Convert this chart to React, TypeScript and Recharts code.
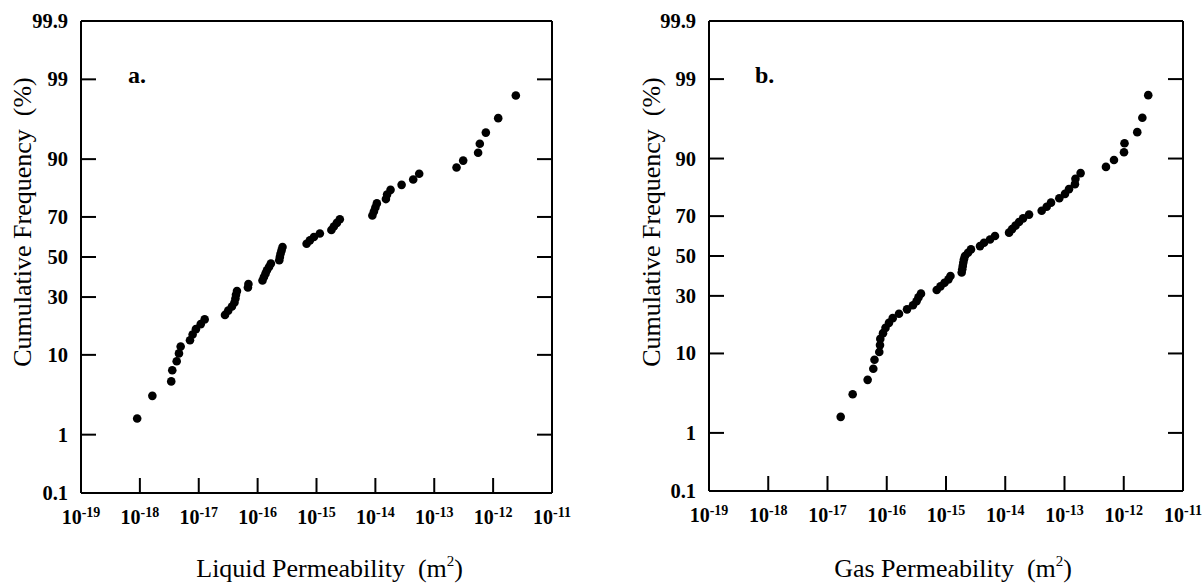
import React from 'react';
import { ScatterChart, Scatter, XAxis, YAxis } from 'recharts';

// Cumulative frequency (%) of each ranked sample (same plotting positions in both panels)
const cumulativeFrequency = [
  1.72, 3.45, 5.17, 6.9, 8.62, 10.34, 12.07, 13.79, 15.52, 17.24,
  18.97, 20.69, 22.41, 24.14, 25.86, 27.59, 29.31, 31.03, 32.76, 34.48,
  36.21, 37.93, 39.66, 41.38, 43.1, 44.83, 46.55, 48.28, 50.0, 51.72,
  53.45, 55.17, 56.9, 58.62, 60.34, 62.07, 63.79, 65.52, 67.24, 68.97,
  70.69, 72.41, 74.14, 75.86, 77.59, 79.31, 81.03, 82.76, 84.48, 86.21,
  87.93, 89.66, 91.38, 93.1, 94.83, 96.55, 98.28,
];

// Panel a: liquid permeability (m^2)
const liquidPermeability = [
  9.0e-19, 1.63e-18, 3.41e-18, 3.55e-18, 4.22e-18, 4.61e-18, 4.93e-18, 7.1e-18, 7.87e-18, 8.95e-18,
  1.08e-17, 1.26e-17, 2.79e-17, 3.17e-17, 3.66e-17, 4.04e-17, 4.2e-17, 4.29e-17, 4.46e-17, 6.84e-17,
  6.98e-17, 1.21e-16, 1.28e-16, 1.36e-16, 1.44e-16, 1.56e-16, 1.68e-16, 2.33e-16, 2.39e-16, 2.45e-16,
  2.55e-16, 2.65e-16, 6.79e-16, 7.73e-16, 9.04e-16, 1.14e-15, 1.79e-15, 1.97e-15, 2.22e-15, 2.49e-15,
  8.89e-15, 9.44e-15, 1.0e-14, 1.06e-14, 1.51e-14, 1.58e-14, 1.81e-14, 2.79e-14, 4.39e-14, 5.55e-14,
  2.39e-13, 3.1e-13, 5.56e-13, 5.94e-13, 7.52e-13, 1.22e-12, 2.43e-12,
];

// Panel b: gas permeability (m^2)
const gasPermeability = [
  1.67e-17, 2.66e-17, 4.76e-17, 5.93e-17, 6.21e-17, 7.48e-17, 7.69e-17, 7.78e-17, 8.65e-17, 9.53e-17,
  1.09e-16, 1.26e-16, 1.61e-16, 2.2e-16, 2.77e-16, 3.18e-16, 3.43e-16, 3.78e-16, 6.97e-16, 8.07e-16,
  9.44e-16, 1.1e-15, 1.19e-15, 1.84e-15, 1.88e-15, 1.92e-15, 1.96e-15, 2.01e-15, 2.09e-15, 2.35e-15,
  2.64e-15, 3.75e-15, 4.38e-15, 5.53e-15, 6.71e-15, 1.16e-14, 1.3e-14, 1.49e-14, 1.71e-14, 2.0e-14,
  2.52e-14, 4.12e-14, 5.01e-14, 5.92e-14, 8.17e-14, 1.02e-13, 1.19e-13, 1.5e-13, 1.53e-13, 1.87e-13,
  5.01e-13, 6.84e-13, 1.01e-12, 1.03e-12, 1.69e-12, 2.06e-12, 2.59e-12,
];

const yTickPercents = [0.1, 1, 10, 30, 50, 70, 90, 99, 99.9];
const yTickLabels = ['0.1', '1', '10', '30', '50', '70', '90', '99', '99.9'];
const xTickValues = [1e-19, 1e-18, 1e-17, 1e-16, 1e-15, 1e-14, 1e-13, 1e-12, 1e-11];
const xTickExponents = ['-19', '-18', '-17', '-16', '-15', '-14', '-13', '-12', '-11'];

const FONT = '"Liberation Serif", "Times New Roman", Times, serif';

// inverse standard normal CDF (normal-probability axis transform)
function probit(p: number): number {
  const a = [-3.969683028665376e1, 2.209460984245205e2, -2.759285104469687e2, 1.38357751867269e2, -3.066479806614716e1, 2.506628277459239];
  const b = [-5.447609879822406e1, 1.615858368580409e2, -1.556989798598866e2, 6.680131188771972e1, -1.328068155288572e1];
  const c = [-7.784894002430293e-3, -3.223964580411365e-1, -2.400758277161838, -2.549671254911294, 4.374664141464968, 2.938163982698783];
  const d = [7.784695709041462e-3, 3.224671290700398e-1, 2.445134137142996, 3.754408661907416];
  const plow = 0.02425;
  const phigh = 1 - plow;
  if (p < plow) {
    const q = Math.sqrt(-2 * Math.log(p));
    return (((((c[0] * q + c[1]) * q + c[2]) * q + c[3]) * q + c[4]) * q + c[5]) /
      ((((d[0] * q + d[1]) * q + d[2]) * q + d[3]) * q + 1);
  }
  if (p <= phigh) {
    const q = p - 0.5;
    const r = q * q;
    return ((((((a[0] * r + a[1]) * r + a[2]) * r + a[3]) * r + a[4]) * r + a[5]) * q) /
      (((((b[0] * r + b[1]) * r + b[2]) * r + b[3]) * r + b[4]) * r + 1);
  }
  const q = Math.sqrt(-2 * Math.log(1 - p));
  return -(((((c[0] * q + c[1]) * q + c[2]) * q + c[3]) * q + c[4]) * q + c[5]) /
    ((((d[0] * q + d[1]) * q + d[2]) * q + d[3]) * q + 1);
}

const yTickValues = yTickPercents.map((p) => probit(p / 100));
const yDomain = [yTickValues[0], yTickValues[yTickValues.length - 1]];

const TICK_LEN = 15;
const X_LABEL_GAP = 31;
const Y_LABEL_GAP = 13;

const labelForY = (v: number) => {
  const i = yTickValues.findIndex((t) => Math.abs(t - v) < 1e-6);
  return i >= 0 ? yTickLabels[i] : '';
};
const expForX = (v: number) => {
  const i = xTickValues.findIndex((t) => Math.abs(Math.log10(t) - Math.log10(v)) < 1e-6);
  return i >= 0 ? xTickExponents[i] : '';
};

const LeftYTick = (props: any) => {
  const { x, y, payload } = props;
  const ax = x + Y_LABEL_GAP;
  return (
    <g>
      <line x1={ax} x2={ax + TICK_LEN} y1={y} y2={y} stroke="#000" strokeWidth={2} />
      <text x={x} y={y} dy="0.34em" textAnchor="end" fontFamily={FONT} fontSize={20.5} fontWeight="bold" fill="#000">
        {labelForY(payload.value)}
      </text>
    </g>
  );
};

const RightYTick = (props: any) => {
  const { x, y } = props;
  return <line x1={x - TICK_LEN} x2={x} y1={y} y2={y} stroke="#000" strokeWidth={2} />;
};

const BottomXTick = (props: any) => {
  const { x, y, payload } = props;
  const ay = y - X_LABEL_GAP;
  return (
    <g>
      <line x1={x} x2={x} y1={ay} y2={ay - TICK_LEN} stroke="#000" strokeWidth={2} />
      <text x={x} y={y} textAnchor="middle" fontFamily={FONT} fontSize={20} fontWeight="bold" fill="#000">
        10
        <tspan dy={-7.5} fontSize={14}>{expForX(payload.value)}</tspan>
      </text>
    </g>
  );
};

const TopXTick = (props: any) => {
  const { x, y } = props;
  return <line x1={x} x2={x} y1={y} y2={y + TICK_LEN} stroke="#000" strokeWidth={2} />;
};

const Dot = (props: any) => <circle cx={props.cx} cy={props.cy} r={4.3} fill="#000" />;

const axisLine = { stroke: '#000', strokeWidth: 2 };

function Panel(props: {
  left: number;
  width: number;
  margin: { top: number; left: number; right: number; bottom: number };
  permeability: number[];
}) {
  const data = props.permeability.map((k, i) => ({ k, z: probit(cumulativeFrequency[i] / 100) }));
  return (
    <div style={{ position: 'absolute', left: props.left, top: 0, width: props.width, height: 585 }}>
      <ScatterChart width={props.width} height={585} margin={props.margin}>
        <XAxis
          xAxisId="b"
          dataKey="k"
          type="number"
          scale="log"
          domain={[xTickValues[0], xTickValues[xTickValues.length - 1]]}
          ticks={xTickValues}
          interval={0}
          allowDataOverflow
          orientation="bottom"
          height={1}
          tickSize={0}
          tickMargin={X_LABEL_GAP}
          tickLine={false}
          axisLine={axisLine}
          tick={BottomXTick}
        />
        <XAxis
          xAxisId="t"
          type="number"
          scale="log"
          domain={[xTickValues[0], xTickValues[xTickValues.length - 1]]}
          ticks={xTickValues}
          interval={0}
          allowDataOverflow
          orientation="top"
          height={1}
          tickSize={0}
          tickMargin={0}
          tickLine={false}
          axisLine={axisLine}
          tick={TopXTick}
        />
        <YAxis
          yAxisId="l"
          dataKey="z"
          type="number"
          domain={yDomain}
          ticks={yTickValues}
          interval={0}
          allowDataOverflow
          orientation="left"
          width={1}
          tickSize={0}
          tickMargin={Y_LABEL_GAP}
          tickLine={false}
          axisLine={axisLine}
          tick={LeftYTick}
        />
        <YAxis
          yAxisId="r"
          type="number"
          domain={yDomain}
          ticks={yTickValues}
          interval={0}
          allowDataOverflow
          orientation="right"
          width={1}
          tickSize={0}
          tickMargin={0}
          tickLine={false}
          axisLine={axisLine}
          tick={RightYTick}
        />
        <Scatter xAxisId="b" yAxisId="l" data={data} shape={Dot} isAnimationActive={false} />
      </ScatterChart>
    </div>
  );
}

const titleStyle: React.CSSProperties = {
  position: 'absolute',
  fontFamily: FONT,
  fontSize: 26,
  lineHeight: 1,
  whiteSpace: 'pre',
  color: '#000',
};

export default function App() {
  return (
    <div style={{ position: 'absolute', left: 0, top: 0, width: 1203, height: 585, background: '#fff', overflow: 'hidden' }}>
      <Panel left={0} width={600} margin={{ top: 20, left: 80, right: 47, bottom: 91 }} permeability={liquidPermeability} />
      <Panel left={600} width={603} margin={{ top: 20, left: 108, right: 19, bottom: 93 }} permeability={gasPermeability} />

      {/* y-axis titles */}
      <div style={{ ...titleStyle, left: 23, top: 222, transform: 'translate(-50%, -50%) rotate(-90deg)' }}>
        {'Cumulative Frequency  (%)'}
      </div>
      <div style={{ ...titleStyle, left: 652, top: 222, transform: 'translate(-50%, -50%) rotate(-90deg)' }}>
        {'Cumulative Frequency  (%)'}
      </div>

      {/* x-axis titles */}
      <div style={{ ...titleStyle, right: 1203 - 463, top: 556 }}>
        {'Liquid Permeability  (m'}
        <span style={{ fontSize: 15, position: 'relative', top: -11 }}>2</span>
        {')'}
      </div>
      <div style={{ ...titleStyle, right: 1203 - 1072, top: 556 }}>
        {'Gas Permeability  (m'}
        <span style={{ fontSize: 15, position: 'relative', top: -11 }}>2</span>
        {')'}
      </div>

      {/* panel letters */}
      <div style={{ ...titleStyle, left: 128, top: 63, fontSize: 24, fontWeight: 'bold' }}>a.</div>
      <div style={{ ...titleStyle, left: 755, top: 63, fontSize: 24, fontWeight: 'bold' }}>b.</div>
    </div>
  );
}
